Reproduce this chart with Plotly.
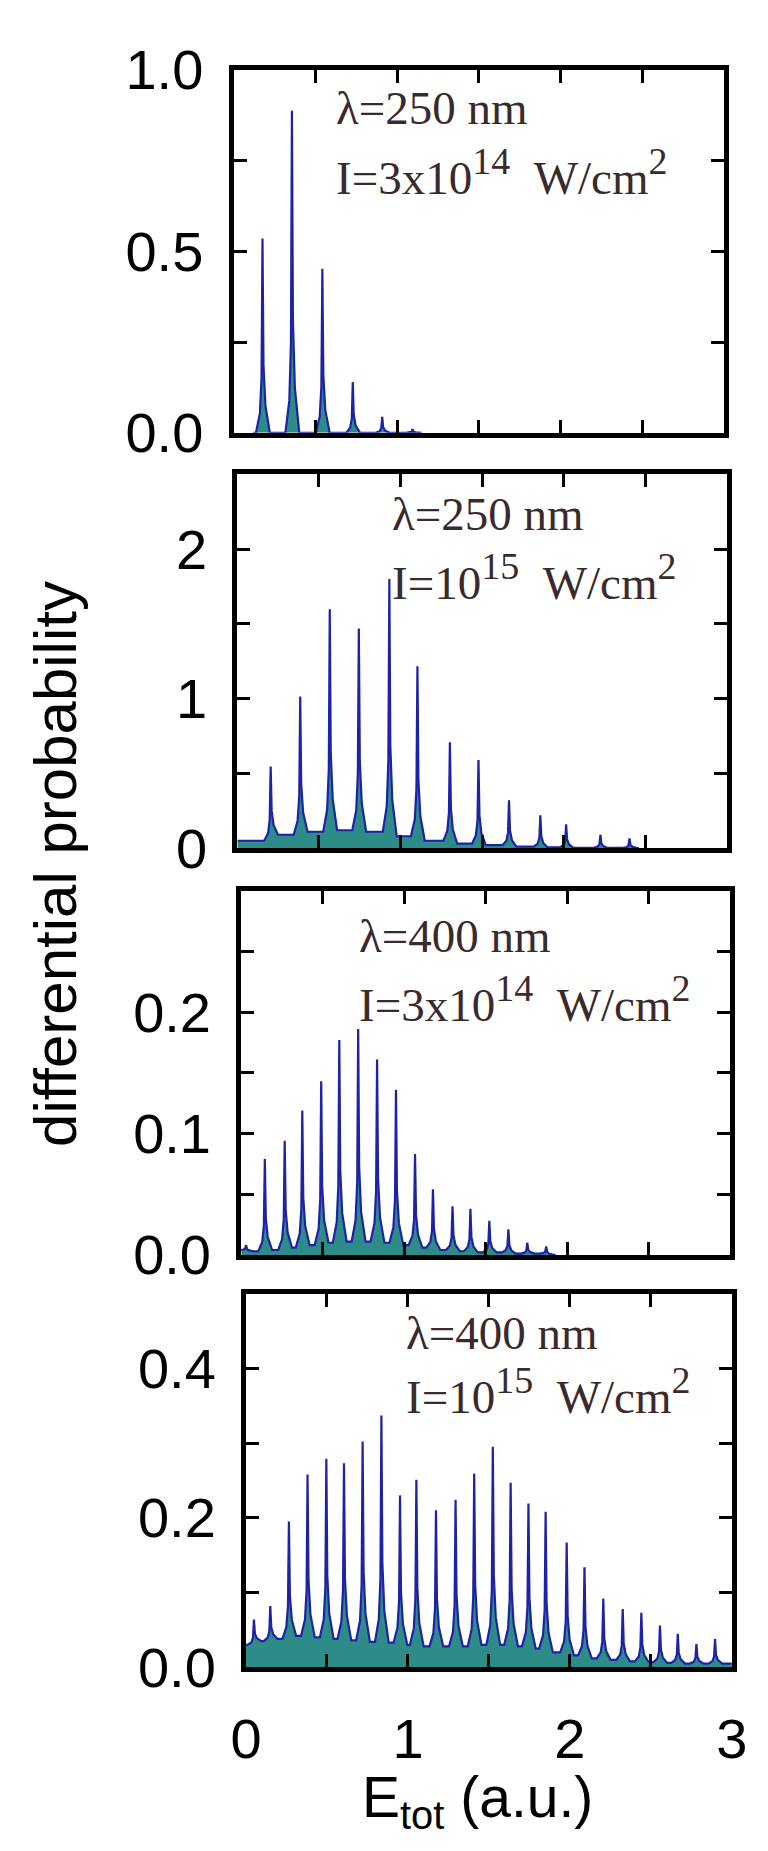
import plotly.graph_objects as go

W, H = 768, 1851

# ---------------- data ----------------
E_MAX = 3.0
X_TICKS = [0, 0.5, 1, 1.5, 2, 2.5, 3]
X_TICK_TEXT = ["0", "", "1", "", "2", "", "3"]

# panel 1: lambda = 250 nm, I = 3e14 W/cm^2
P1_PEAK_E = [0.177, 0.357, 0.543, 0.729, 0.909, 1.094]
P1_PEAK_P = [0.535, 0.887, 0.452, 0.140, 0.044, 0.010]
P1_VALLEY = [0.0, 0.0, 0.0, 0.0, 0.0, 0.0, 0.0]
P1_E_RANGE = [0.12, 1.15]
P1_YTICKS = [0, 0.25, 0.5, 0.75, 1.0]
P1_YTEXT = ["0.0", "", "0.5", "", "1.0"]
P1_LABEL = ["λ=250 nm", "I=3x10", "14", "W/cm", "2"]

# panel 2: lambda = 250 nm, I = 1e15 W/cm^2
P2_PEAK_E = [0.204, 0.385, 0.566, 0.744, 0.931, 1.103, 1.302, 1.477, 1.664, 1.856, 2.014, 2.224, 2.402]
P2_PEAK_P = [0.546, 1.015, 1.598, 1.469, 1.80, 1.216, 0.708, 0.59, 0.32, 0.22, 0.16, 0.09, 0.065]
P2_VALLEY = [0.05, 0.09, 0.11, 0.12, 0.11, 0.08, 0.05, 0.03, 0.02, 0.01, 0.005, 0.003, 0.002, 0.0]
P2_E_RANGE = [0.0, 2.46]
P2_YTICKS = [0, 0.5, 1, 1.5, 2, 2.5]
P2_YTEXT = ["0", "", "1", "", "2", ""]
P2_LABEL = ["λ=250 nm", "I=10", "15", "W/cm", "2"]

# panel 3: lambda = 400 nm, I = 3e14 W/cm^2
P3_PEAK_E = [0.03, 0.145, 0.267, 0.375, 0.491, 0.602, 0.718, 0.834, 0.95, 1.067, 1.177,
             1.297, 1.407, 1.523, 1.64, 1.756, 1.872]
P3_PEAK_P = [0.008, 0.079, 0.094, 0.119, 0.143, 0.177, 0.186, 0.161, 0.136, 0.083, 0.054,
             0.040, 0.038, 0.028, 0.021, 0.010, 0.007]
P3_VALLEY = [0.004, 0.003, 0.004, 0.006, 0.008, 0.010, 0.011, 0.011, 0.010, 0.008, 0.006,
             0.004, 0.003, 0.002, 0.002, 0.001, 0.001, 0.0]
P3_E_RANGE = [0.0, 1.93]
P3_YTICKS = [0, 0.05, 0.1, 0.15, 0.2, 0.25, 0.3]
P3_YTEXT = ["0.0", "", "0.1", "", "0.2", "", ""]
P3_LABEL = ["λ=400 nm", "I=3x10", "14", "W/cm", "2"]

# panel 4: lambda = 400 nm, I = 1e15 W/cm^2
P4_PEAK_E = [0.049, 0.150, 0.265, 0.380, 0.496, 0.605, 0.720, 0.836, 0.951, 1.052, 1.173,
             1.294, 1.409, 1.524, 1.634, 1.744, 1.850, 1.980, 2.090, 2.206, 2.326, 2.441,
             2.556, 2.666, 2.781, 2.896]
P4_PEAK_P = [0.064, 0.082, 0.195, 0.258, 0.279, 0.273, 0.302, 0.337, 0.230, 0.251, 0.210,
             0.224, 0.259, 0.295, 0.247, 0.219, 0.208, 0.167, 0.134, 0.092, 0.078, 0.073,
             0.056, 0.045, 0.031, 0.038]
P4_VALLEY = [0.030, 0.035, 0.038, 0.042, 0.040, 0.038, 0.036, 0.034, 0.033, 0.030, 0.028,
             0.028, 0.028, 0.030, 0.030, 0.028, 0.025, 0.020, 0.016, 0.012, 0.010, 0.008,
             0.007, 0.006, 0.005, 0.005, 0.005]
P4_E_RANGE = [0.0, 3.0]
P4_YTICKS = [0, 0.1, 0.2, 0.3, 0.4, 0.5]
P4_YTEXT = ["0.0", "", "0.2", "", "0.4", ""]
P4_LABEL = ["λ=400 nm", "I=10", "15", "W/cm", "2"]

Y_TITLE = "differential probability"
X_TITLE = "E<sub>tot</sub> (a.u.)"

# ---------------- styles / layout ----------------
LINE_BLUE = "#1e22a6"
FILL_TEAL = "#2e8c88"
TEXT_DARK = "#3a2a2c"
SANS = "Liberation Sans, Arial, sans-serif"
SERIF = "Liberation Serif, Times New Roman, serif"
SERIF_SIZE = 47
SUP_SIZE = 38

# peak glyph shape (offsets in a.u. and fraction of peak above the local floor)
PEAK_DX = [-0.040, -0.016, -0.006, 0.0, 0.006, 0.018, 0.045]
PEAK_FR = [0.0, 0.10, 0.28, 1.0, 0.35, 0.14, 0.0]

# panel boxes in pixels: left, right, top, bottom
BOXES = [(227, 739, 40, 416), (231, 742, 459, 846), (235, 745, 890, 1267), (240, 747, 1307, 1694)]
# label anchor (left x, line1 y, line2 y) in pixels
LABEL_POS = [(332, 80, 146), (390, 500, 565), (356, 937, 1002), (405, 1348, 1408)]


def spectrum(centers, heights, valleys, erange):
    xs, ys = [erange[0]], [valleys[0]]
    for i, (c, h) in enumerate(zip(centers, heights)):
        vl, vr = valleys[i], valleys[i + 1]
        for dx, fr in zip(PEAK_DX, PEAK_FR):
            if dx == 0:
                xs.append(c)
                ys.append(h)
            else:
                base = vl if dx < 0 else vr
                xs.append(c + dx)
                ys.append(base + fr * (h - base))
    xs.append(erange[1])
    ys.append(valleys[-1])
    return xs, ys


def label_line2(parts):
    base, sup1, mid, sup2 = parts[1:]
    sp = "<span style='font-size:%dpx'>%s</span>"
    return (base + "<sup>" + sp % (SUP_SIZE, sup1) + "</sup>&nbsp;&nbsp;" + mid
            + "<sup>" + sp % (SUP_SIZE, sup2) + "</sup>")


panels = [
    (P1_PEAK_E, P1_PEAK_P, P1_VALLEY, P1_E_RANGE, P1_YTICKS, P1_YTEXT, P1_LABEL, [0, 1.0]),
    (P2_PEAK_E, P2_PEAK_P, P2_VALLEY, P2_E_RANGE, P2_YTICKS, P2_YTEXT, P2_LABEL, [0, 2.5]),
    (P3_PEAK_E, P3_PEAK_P, P3_VALLEY, P3_E_RANGE, P3_YTICKS, P3_YTEXT, P3_LABEL, [0, 0.3]),
    (P4_PEAK_E, P4_PEAK_P, P4_VALLEY, P4_E_RANGE, P4_YTICKS, P4_YTEXT, P4_LABEL, [0, 0.5]),
]

fig = go.Figure()
layout = dict(
    width=W, height=H, margin=dict(l=0, r=0, t=0, b=0),
    paper_bgcolor="white", plot_bgcolor="white", showlegend=False,
)
annotations = []

for i, (pe, pp, pv, er, yt, ytt, lab, yr) in enumerate(panels):
    n = "" if i == 0 else str(i + 1)
    xs, ys = spectrum(pe, pp, pv, er)
    fig.add_trace(go.Scatter(
        x=xs, y=ys, mode="lines", fill="tozeroy", fillcolor=FILL_TEAL,
        line=dict(color=LINE_BLUE, width=2.2), xaxis="x" + n, yaxis="y" + n,
        hoverinfo="skip",
    ))
    l, r, t, b = BOXES[i]
    common = dict(
        showline=True, linewidth=5, linecolor="black", mirror="allticks",
        ticks="inside", ticklen=13, tickwidth=3, tickcolor="black",
        showgrid=False, zeroline=False, layer="above traces",
        tickfont=dict(family=SANS, size=56, color="black"),
    )
    layout["xaxis" + n] = dict(
        domain=[l / W, r / W], range=[0, E_MAX], anchor="y" + n,
        tickmode="array", tickvals=X_TICKS, ticktext=X_TICK_TEXT,
        showticklabels=(i == 3), ticklabelstandoff=18, **common,
    )
    layout["yaxis" + n] = dict(
        domain=[1 - b / H, 1 - t / H], range=yr, anchor="x" + n,
        tickmode="array", tickvals=yt, ticktext=ytt, ticklabelstandoff=14, **common,
    )
    lx, ly1, ly2 = LABEL_POS[i]
    for txt, ly in ((lab[0], ly1), (label_line2(lab), ly2)):
        annotations.append(dict(
            text=txt, x=lx / W, y=1 - ly / H, xref="paper", yref="paper",
            xanchor="left", yanchor="middle", showarrow=False,
            font=dict(family=SERIF, size=SERIF_SIZE, color=TEXT_DARK),
        ))

annotations.append(dict(
    text=Y_TITLE, x=41 / W, y=1 - 862 / H, xref="paper", yref="paper",
    xanchor="center", yanchor="middle", textangle=-90, showarrow=False,
    font=dict(family=SANS, size=60, color="black"),
))
annotations.append(dict(
    text=X_TITLE, x=482 / W, y=1 - 1832 / H, xref="paper", yref="paper",
    xanchor="center", yanchor="middle", showarrow=False,
    font=dict(family=SANS, size=57, color="black"),
))
layout["annotations"] = annotations
fig.update_layout(**layout)
fig.write_html("out.html")
